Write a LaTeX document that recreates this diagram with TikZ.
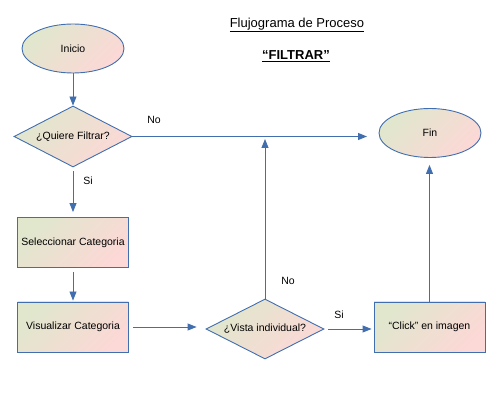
\documentclass[tikz,border=0pt]{standalone}
\usepackage{fontspec}
\setmainfont{Liberation Sans}
\usetikzlibrary{shapes.geometric,arrows.meta}
\definecolor{lnblue}{RGB}{65,110,175}
\definecolor{fgreen}{RGB}{224,231,205}
\definecolor{fpink}{RGB}{252,216,214}
\tikzset{
  shaded/.style={draw=lnblue, line width=0.9pt, top color=fgreen, bottom color=fpink, shading angle=45, font=\fontsize{10.5}{12}\selectfont, inner sep=0pt},
  term/.style={shaded, ellipse, minimum width=102pt, minimum height=49pt},
  decide/.style={shaded, diamond, minimum width=118pt, minimum height=61pt},
  proc/.style={shaded, rectangle, minimum width=111pt, minimum height=50pt},
  conn/.style={draw=lnblue, line width=0.9pt, -{Triangle[length=9pt,width=7pt]}},
  lbl/.style={font=\fontsize{10.5}{12}\selectfont, fill=white, inner sep=3pt},
  ttl/.style={font=\fontsize{13}{15}\selectfont}
}
\begin{document}
\begin{tikzpicture}[x=1pt,y=-1pt]
\useasboundingbox (0,0) rectangle (493,403);
\node[ttl] (t1) at (297,25) {\underline{Flujograma de Proceso}};
\node[ttl] (t2) at (296,56) {\textbf{\underline{“FILTRAR”}}};

\node[term] (inicio) at (73,48.5) {Inicio};
\node[decide] (q1) at (73,136.5) {\makebox[0pt]{¿Quiere Filtrar?}};
\node[term] (fin) at (430,133) {Fin};
\node[proc] (sel) at (73,242.5) {Seleccionar Categoria};
\node[proc] (vis) at (73,327) {Visualizar Categoria};
\node[decide, minimum height=60pt] (q2) at (265,329) {\makebox[0pt]{¿Vista individual?}};
\node[proc] (click) at (429.5,327) {“Click” en imagen};

\coordinate (finin) at (367,136.5);
\coordinate (join) at (265,139);

\draw[conn] (inicio.south) -- (q1.north);
\draw[conn] (q1.east) -- (finin);
\draw[conn, shorten <=4pt, shorten >=5pt] (q1.south) -- (sel.north);
\draw[conn, shorten <=4pt, shorten >=1pt] (sel.south) -- (vis.north);
\draw[conn, shorten <=4pt, shorten >=9pt] (vis.east) -- (vis.east -| q2.west);
\draw[conn] (q2.north) -- (join);
\draw[conn, shorten <=4pt, shorten >=2pt] (q2.east) -- (q2.east -| click.west);
\draw[conn, shorten >=7pt] (click.north) -- (click.north |- fin.south);

\node[lbl] (no1) at (154,120) {No};
\node[lbl] (si1) at (88,181) {Si};
\node[lbl] (no2) at (288,281) {No};
\node[lbl] (si2) at (339,315) {Si};
\end{tikzpicture}
\end{document}
